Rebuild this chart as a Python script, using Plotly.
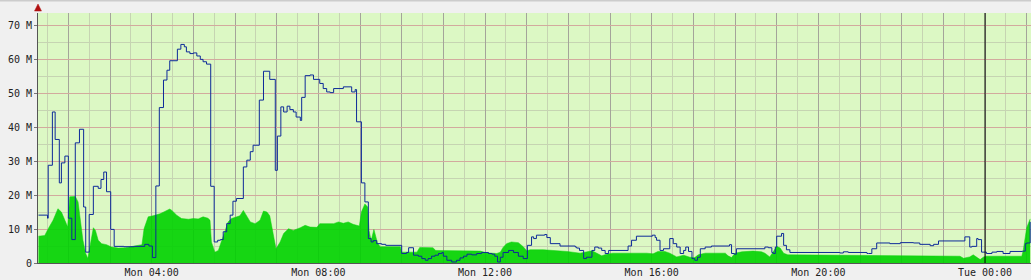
import plotly.graph_objects as go
from datetime import datetime, timedelta

BASE = datetime(2024, 1, 1)  # a Monday, 00:00

# Outgoing traffic (blue line), value in Mbit/s starting at minute offset from Mon 00:00
out_minutes = [77, 90, 91, 97, 101, 107, 110, 115, 120, 125, 130, 136, 142, 145, 150, 156, 163, 167,
               171, 175, 181, 186, 200, 215, 230, 236, 241, 246, 251, 257, 262, 266, 277, 282, 287,
               290, 295, 300, 305, 310, 314, 319, 325, 330, 335, 339, 343, 348, 353, 357, 362, 372,
               377, 382, 386, 395, 401, 410, 418, 421, 426, 430, 435, 439, 444, 448, 454, 456, 461,
               468, 473, 482, 487, 492, 497, 502, 516, 528, 533, 535, 542, 547, 552, 556, 559, 564,
               571, 577, 600, 607, 610, 617, 624, 629, 634, 638, 643, 648, 653, 658, 660, 665, 672,
               679, 684, 689, 694, 701, 708, 715, 725, 730, 734, 738, 742, 746, 754, 761, 768, 775,
               781, 787, 790, 794, 806, 809, 814, 828, 850, 852, 856, 862, 866, 874, 878, 883, 888,
               893, 898, 926, 931, 938, 961, 965, 967, 972, 977, 986, 991, 996, 1001, 1006, 1009,
               1013, 1018, 1022, 1026, 1030, 1037, 1046, 1072, 1075, 1079, 1082, 1123, 1128, 1133,
               1135, 1138, 1140, 1147, 1150, 1154, 1159, 1231, 1236, 1243, 1270, 1272, 1277, 1284,
               1303, 1318, 1337, 1346, 1361, 1366, 1373, 1411, 1418, 1421, 1428, 1430, 1435, 1442,
               1450, 1457, 1466, 1476, 1494, 1498, 1500, 1505]
out_values = [14.1, 13.2, 28.8, 44.5, 36.4, 23.6, 29.5, 31.5, 13.2, 6.9, 35.4, 39.4, 16.5, 3.2, 14.3,
              22.6, 22.0, 24.6, 26.8, 21.0, 9.9, 4.9, 4.8, 4.9, 5.5, 5.0, 1.6, 22.7, 45.8, 53.9, 56.8,
              59.6, 63.0, 64.4, 63.7, 62.2, 61.7, 61.9, 61.0, 60.0, 59.3, 58.6, 22.6, 6.2, 6.7, 6.9,
              9.2, 11.6, 14.1, 18.2, 19.0, 28.3, 30.3, 32.8, 34.7, 48.0, 56.5, 54.1, 27.3, 37.4, 46.0,
              44.5, 46.2, 45.2, 44.5, 43.0, 42.0, 48.8, 55.2, 55.4, 54.1, 52.9, 51.4, 50.4, 50.2, 51.4,
              51.9, 50.4, 51.1, 41.6, 23.6, 18.0, 7.2, 6.2, 6.6, 5.7, 5.5, 5.2, 2.8, 3.1, 4.5, 2.3,
              2.0, 1.3, 0.8, 1.3, 2.0, 2.3, 2.8, 3.1, 2.0, 0.8, 0.3, 0.8, 1.5, 2.0, 2.6, 2.4, 2.8,
              3.1, 2.8, 2.6, 2.0, 0.3, 1.7, 3.1, 3.7, 3.1, 2.0, 1.3, 5.2, 7.7, 7.2, 8.2, 8.4, 7.5,
              5.7, 5.0, 4.7, 4.4, 3.7, 1.3, 1.7, 3.7, 4.7, 4.4, 3.7, 2.8, 3.7, 5.0, 6.7, 7.9, 8.2,
              7.5, 6.7, 3.7, 4.2, 7.2, 5.7, 4.7, 2.8, 3.7, 4.7, 3.4, 1.3, 0.8, 1.7, 4.2, 4.7, 5.0,
              5.4, 2.8, 2.6, 4.2, 4.7, 4.5, 3.1, 2.8, 4.7, 7.9, 8.7, 5.2, 3.9, 3.1, 2.95, 3.3, 3.1,
              2.8, 2.8, 4.2, 5.9, 5.7, 6.0, 5.9, 5.5, 5.1, 5.5, 6.5, 7.7, 4.7, 4.9, 7.2, 6.9, 3.2,
              2.8, 3.2, 3.4, 2.8, 3.4, 3.5, 5.7, 5.9, 12.1, 13.6]

# Incoming traffic (green area)
in_minutes = [77, 86, 91, 98, 105, 110, 115, 119, 122, 130, 134, 137, 141, 145, 148, 151, 156, 159,
              163, 168, 175, 182, 192, 202, 216, 226, 229, 235, 242, 252, 259, 266, 269, 276, 283,
              293, 300, 307, 314, 321, 324, 326, 331, 336, 341, 346, 350, 355, 362, 367, 372, 377,
              382, 389, 396, 401, 406, 410, 414, 419, 425, 430, 437, 444, 454, 461, 468, 478, 482,
              492, 502, 509, 516, 523, 530, 539, 542, 547, 551, 553, 556, 560, 565, 569, 598, 600,
              622, 626, 645, 649, 670, 691, 713, 722, 737, 742, 746, 751, 758, 768, 775, 780, 785,
              804, 823, 838, 857, 869, 874, 881, 888, 895, 904, 953, 962, 969, 979, 986, 996, 1006,
              1015, 1022, 1027, 1037, 1066, 1070, 1075, 1080, 1090, 1106, 1118, 1123, 1130, 1135,
              1140, 1145, 1150, 1156, 1263, 1318, 1375, 1404, 1409, 1418, 1423, 1428, 1433, 1438,
              1442, 1493, 1495, 1500, 1505]
in_values = [7.9, 8.1, 10.1, 12.6, 16.0, 15.0, 12.6, 10.6, 19.5, 19.6, 18.0, 13.6, 6.7, 2.8, 1.3,
             4.7, 10.4, 9.6, 6.7, 5.7, 5.4, 4.7, 4.4, 4.5, 4.9, 5.4, 10.1, 13.6, 13.9, 14.5, 15.2,
             15.9, 15.5, 14.1, 13.1, 12.9, 13.1, 13.0, 13.6, 13.2, 12.6, 6.2, 3.2, 3.7, 6.7, 10.1,
             12.1, 13.1, 13.6, 13.9, 15.5, 13.9, 12.1, 11.6, 12.6, 15.3, 15.0, 13.9, 9.6, 4.2, 6.2,
             8.7, 10.1, 9.6, 10.4, 11.1, 10.6, 10.5, 11.6, 11.7, 11.6, 12.1, 11.7, 12.1, 11.4, 10.9,
             15.0, 17.4, 16.5, 9.6, 6.6, 9.9, 6.0, 4.8, 4.8, 3.2, 3.2, 4.6, 4.5, 3.7, 3.6, 3.7, 3.5,
             3.0, 2.8, 3.2, 4.6, 5.7, 6.2, 6.0, 4.8, 3.6, 3.9, 3.9, 3.7, 3.4, 2.9, 3.4, 3.6, 2.9,
             2.1, 2.6, 2.9, 2.9, 2.7, 3.4, 3.4, 2.9, 1.8, 2.3, 1.7, 1.6, 2.4, 2.9, 2.9, 2.1, 1.6,
             2.9, 3.3, 3.5, 3.3, 2.9, 1.8, 3.3, 4.9, 4.4, 2.9, 2.4, 2.2, 2.1, 2.0, 2.0, 1.4, 1.8,
             2.4, 1.8, 1.0, 1.8, 2.0, 2.0, 3.7, 10.4, 13.0]

tick_minutes = [240, 480, 720, 960, 1200, 1440]
tick_labels = ["Mon 04:00", "Mon 08:00", "Mon 12:00", "Mon 16:00", "Mon 20:00", "Tue 00:00"]
y_ticks = [0, 10, 20, 30, 40, 50, 60, 70]
y_tick_labels = ["0", "10 M", "20 M", "30 M", "40 M", "50 M", "60 M", "70 M"]
day_boundary_minute = 1440
x_start_minute = 76.3
x_end_minute = 1506.2
y_top = 73.66


def t(m):
    return BASE + timedelta(minutes=m)


hour_minutes = list(range(120, 1507, 60))
hour_vals = [t(m) for m in hour_minutes]
hour_text = [tick_labels[tick_minutes.index(m)] if m in tick_minutes else "" for m in hour_minutes]

fig = go.Figure()
fig.add_trace(go.Scatter(
    x=[t(m) for m in in_minutes], y=in_values, mode="lines",
    line=dict(color="#0fd00f", width=0.5, shape="linear"),
    fill="tozeroy", fillcolor="rgba(0,210,0,0.9)", hoverinfo="skip", showlegend=False))
fig.add_trace(go.Scatter(
    x=[t(m) for m in out_minutes], y=out_values, mode="lines",
    line=dict(color="#0d2a99", width=1.0, shape="hv"),
    hoverinfo="skip", showlegend=False))

fig.add_shape(type="line", xref="x", yref="paper", x0=t(day_boundary_minute), x1=t(day_boundary_minute),
              y0=0, y1=1, line=dict(color="#000000", width=1), layer="above")
# y axis arrow
fig.add_shape(type="path", xref="paper", yref="paper",
              path="M -0.0035 1.008 L 0.0035 1.008 L 0 1.036 Z",
              fillcolor="#b01010", line=dict(color="#b01010", width=0.5))
# top border
fig.add_shape(type="line", xref="paper", yref="paper", x0=-0.04, x1=1.0, y0=1.05, y1=1.05,
              line=dict(color="#cccccc", width=2))

font = dict(family="DejaVu Sans Mono", size=10, color="#222222")
fig.update_layout(
    width=1031, height=280,
    margin=dict(l=38, r=0, t=13, b=17, pad=0),
    paper_bgcolor="#f0f0f0", plot_bgcolor="#dcf8c4",
    font=font,
    xaxis=dict(
        type="date", range=[t(x_start_minute), t(x_end_minute)],
        tickmode="array", tickvals=hour_vals, ticktext=hour_text,
        showgrid=True, gridcolor="#a4a49a", gridwidth=1,
        minor=dict(tick0=t(30), dtick=30 * 60 * 1000, showgrid=True, gridcolor="#c6d4b2", gridwidth=1),
        showline=True, linecolor="#555555", linewidth=1,
        ticks="", zeroline=False, tickfont=font, fixedrange=True,
    ),
    yaxis=dict(
        range=[0, y_top], tickmode="array", tickvals=y_ticks, ticktext=y_tick_labels,
        showgrid=True, gridcolor="#d2aa9e", gridwidth=1,
        minor=dict(dtick=5, showgrid=True, gridcolor="#c6d4b2", gridwidth=1),
        showline=True, linecolor="#555555", linewidth=1,
        ticks="outside", ticklen=3, tickcolor="#777777", zeroline=False,
        tickfont=font, fixedrange=True,
    ),
)

fig.write_html("out.html")
